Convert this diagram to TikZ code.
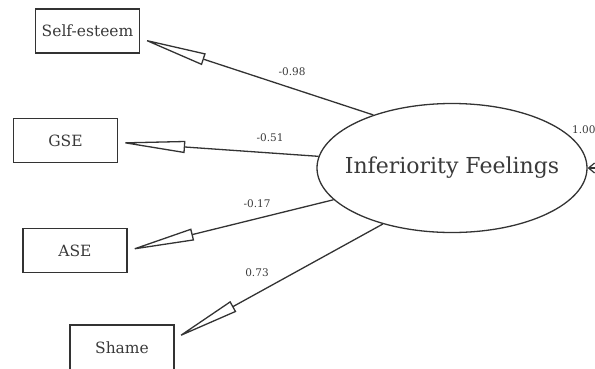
\documentclass[tikz,border=0pt]{standalone}
\usepackage{fontspec}
\setmainfont{DejaVu Serif}
\usetikzlibrary{arrows.meta,shapes.geometric}
\definecolor{ink}{HTML}{333333}
\definecolor{txt}{HTML}{3A3A3A}
\begin{document}
\begin{tikzpicture}[x=1pt,y=-1pt,
  box/.style={draw=ink,line width=1.4pt,rectangle,minimum width=104pt,minimum height=44pt,inner sep=0pt,text=txt,font=\fontsize{15.5}{18}\selectfont},
  lat/.style={draw=ink,line width=1.3pt,ellipse,minimum width=270pt,minimum height=129pt,inner sep=0pt,text=txt,font=\fontsize{22}{26}\selectfont},
  load/.style={draw=ink,line width=1.3pt,-{Triangle[open,length=67pt,width=12pt,line width=1.3pt]}},
  lbl/.style={text=txt,inner sep=0pt,font=\fontsize{10.5}{12}\selectfont}]
\useasboundingbox (0,0) rectangle (595,368);
\clip (0,0) rectangle (595,368);
\node[box] (SE) at (87.5,31) {Self-esteem};
\node[box] (GSE) at (65.5,140.5) {GSE};
\node[box] (ASE) at (75,250.5) {ASE};
\node[box,minimum height=46pt] (SH) at (122,348) {Shame};
\node[lat] (F) at (452,168) {\makebox[0pt]{Inferiority Feelings}};
\coordinate (R) at (605,168);
\draw[load] (F.146.8) -- (SE.-8);
\draw[load] (F.175) -- (GSE.-2);
\draw[load] (F.195) -- (ASE.east);
\draw[load] (F.219) -- (SH.10);
\draw[draw=ink,line width=1.2pt,-{Straight Barb[length=6pt,width=10pt]}] (R) -- (F.east);
\node[lbl] (l1) at (292,72) {-0.98};
\node[lbl] (l2) at (270,138) {-0.51};
\node[lbl] (l3) at (257,204) {-0.17};
\node[lbl] (l4) at (257,273) {0.73};
\node[lbl,anchor=west] (l5) at (572,130) {1.00};
\end{tikzpicture}
\end{document}
